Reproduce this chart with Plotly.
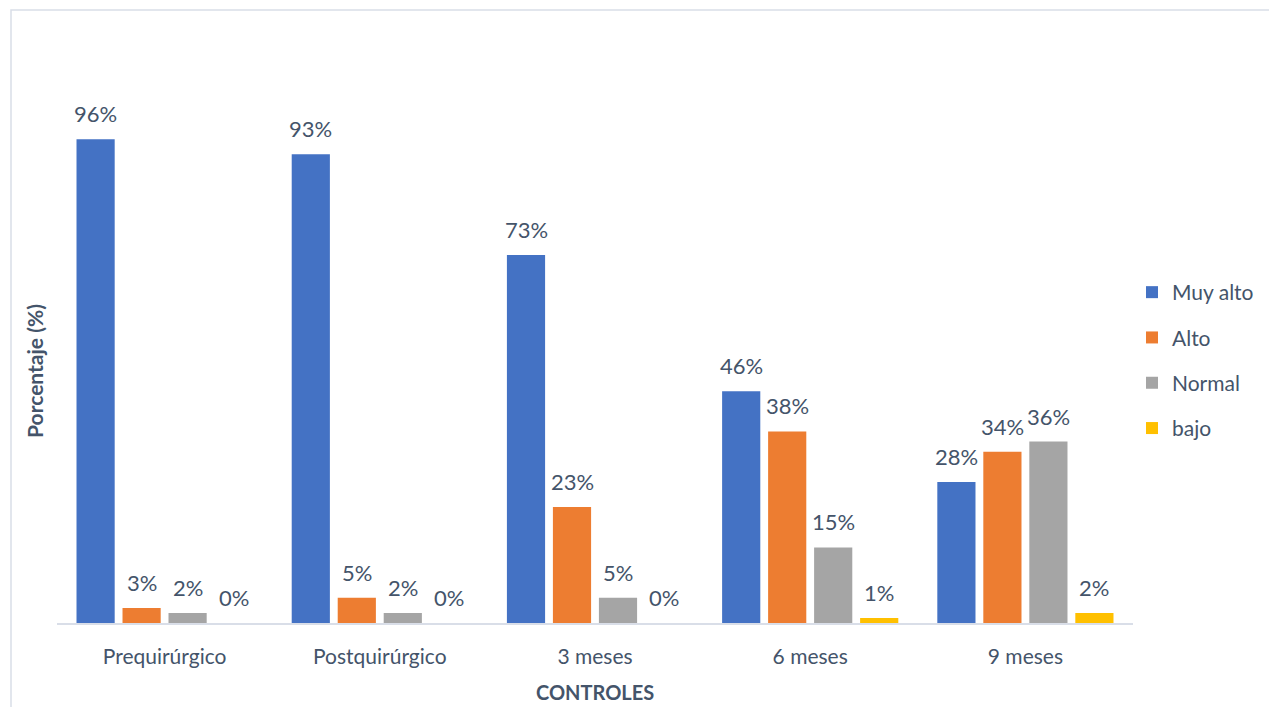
import plotly.graph_objects as go

# Categories (control points) and percentage per level
controles = ["Prequirúrgico", "Postquirúrgico", "3 meses", "6 meses", "9 meses"]
muy_alto = [96, 93, 73, 46, 28]
alto = [3, 5, 23, 38, 34]
normal = [2, 2, 5, 15, 36]
bajo = [0, 0, 0, 1, 2]

series = [
    ("Muy alto", muy_alto, "#4472C4"),
    ("Alto", alto, "#ED7D31"),
    ("Normal", normal, "#A5A5A5"),
    ("bajo", bajo, "#FFC000"),
]

TEXT = "#44546A"
FONT = "Lato, 'Open Sans', sans-serif"
FS = 22

W, H = 1269, 707
ML, MR, MT, MB = 57, 136, 119, 84
PW = W - ML - MR
PH = H - MT - MB
BARGAP = 0.145
GROUPGAP = 0.17
slot = PW / len(controles) * (1 - BARGAP) / len(series)

fig = go.Figure()
for name, vals, color in series:
    fig.add_trace(go.Bar(
        name=name, x=controles, y=vals,
        marker=dict(color=color, line=dict(width=0)),
        legendgroup=name,
    ))

# value labels above each bar
for i, (name, vals, color) in enumerate(series):
    shift = (i - (len(series) - 1) / 2) * slot
    for c, v in zip(controles, vals):
        fig.add_annotation(
            x=c, y=v, text=f"{v}%", showarrow=False,
            xshift=shift, yshift=10, yanchor="bottom",
            font=dict(family=FONT, size=FS, color=TEXT),
        )

# x-axis title
fig.add_annotation(
    x=0.5, y=(MT + PH - 692) / PH, xref="paper", yref="paper",
    text="<b>CONTROLES</b>", showarrow=False, yanchor="middle",
    font=dict(family=FONT, size=FS - 2, color=TEXT),
)

# outer chart border
fig.add_shape(
    type="rect", xref="paper", yref="paper",
    x0=(11 - ML) / PW, x1=(1290 - ML) / PW,
    y0=(MT + PH - 720) / PH, y1=(MT + PH - 10) / PH,
    line=dict(color="#D9DEE8", width=1.5), fillcolor="rgba(0,0,0,0)", layer="below",
)

fig.update_layout(
    width=W, height=H,
    margin=dict(l=ML, r=MR, t=MT, b=MB, autoexpand=False),
    paper_bgcolor="white", plot_bgcolor="white",
    barmode="group", bargap=BARGAP, bargroupgap=GROUPGAP,
    font=dict(family=FONT, color=TEXT),
    showlegend=True,
    legend=dict(
        x=1.0 + (1132 - ML - PW) / PW, xanchor="left",
        y=(MT + PH - 272) / PH, yanchor="top",
        font=dict(family=FONT, size=FS - 1, color=TEXT),
        tracegroupgap=15, itemwidth=30,
        bgcolor="rgba(0,0,0,0)",
    ),
    xaxis=dict(
        showline=True, linecolor="#D9DEE8", linewidth=2, automargin=False,
        ticks="", showgrid=False, ticklabelstandoff=14,
        tickfont=dict(family=FONT, size=FS - 1, color=TEXT),
    ),
    yaxis=dict(
        range=[0, 100], showticklabels=False, showgrid=False, zeroline=False,
        showline=False, ticks="", automargin=False,
        title=dict(text="<b>Porcentaje (%)</b>", font=dict(family=FONT, size=FS - 1, color=TEXT), standoff=6),
    ),
)

fig.write_html("out.html")
